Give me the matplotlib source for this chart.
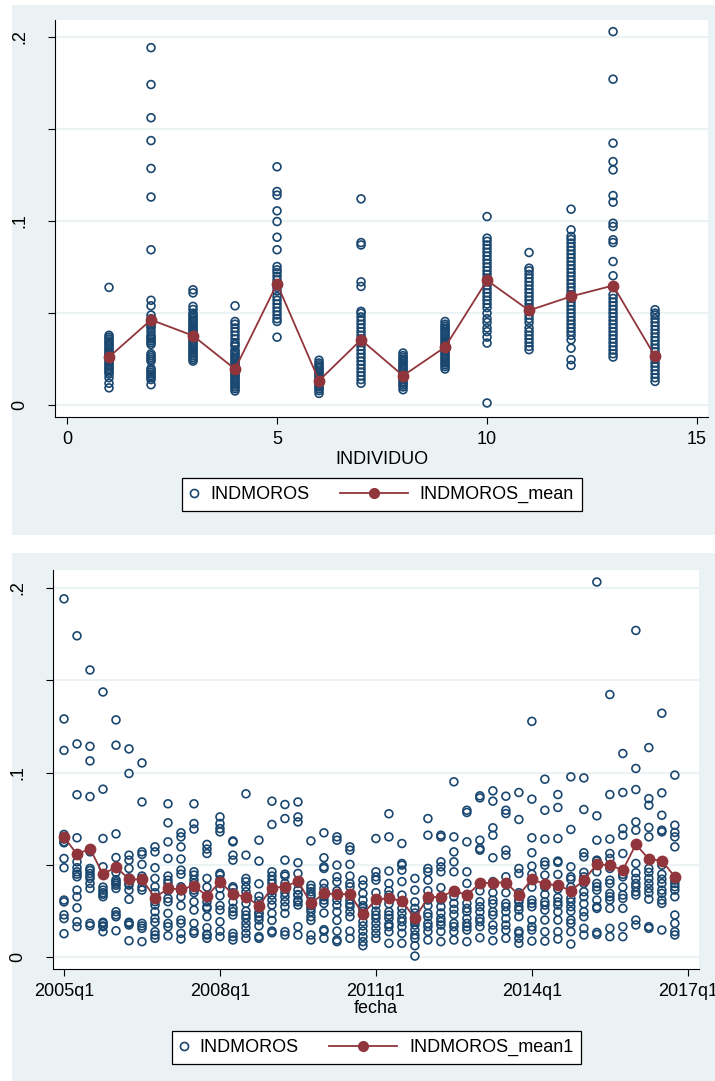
import numpy as np
import matplotlib.pyplot as plt
from matplotlib.lines import Line2D
from matplotlib.patches import Rectangle

plt.rcParams['font.family'] = ['Liberation Sans', 'DejaVu Sans']

# --- panel 1: INDMOROS por INDIVIDUO ---
ind1 = [0.064, 0.038, 0.037, 0.036, 0.035, 0.034, 0.033, 0.032, 0.031, 0.030, 0.029, 0.028, 0.027,
        0.026, 0.025, 0.024, 0.023, 0.022, 0.021, 0.020, 0.019, 0.018, 0.017, 0.015, 0.012, 0.0095]
ind2 = [0.194, 0.174, 0.156, 0.1436, 0.1285, 0.113, 0.0844, 0.057, 0.054, 0.049, 0.047, 0.046, 0.045,
        0.044, 0.043, 0.042, 0.040, 0.038, 0.037, 0.036, 0.035, 0.034, 0.033, 0.028, 0.027, 0.026,
        0.025, 0.024, 0.020, 0.019, 0.018, 0.017, 0.016, 0.015, 0.014, 0.0112]
ind3 = [0.0627, 0.061, 0.0537, 0.052, 0.050, 0.049, 0.048, 0.047, 0.046, 0.045, 0.044, 0.043, 0.042,
        0.041, 0.040, 0.039, 0.038, 0.037, 0.036, 0.035, 0.034, 0.033, 0.032, 0.031, 0.030, 0.029,
        0.028, 0.027, 0.026, 0.025, 0.024]
ind4 = [0.054, 0.0455, 0.044, 0.042, 0.040, 0.038, 0.036, 0.034, 0.033, 0.032, 0.030, 0.029, 0.028,
        0.027, 0.026, 0.025, 0.024, 0.023, 0.022, 0.021, 0.020, 0.019, 0.018, 0.017, 0.016, 0.015,
        0.014, 0.013, 0.012, 0.011, 0.010, 0.009, 0.0078]
ind5 = [0.1294, 0.116, 0.114, 0.1055, 0.0997, 0.0912, 0.0844, 0.0753, 0.0735, 0.072, 0.070, 0.068,
        0.066, 0.064, 0.062, 0.059, 0.057, 0.055, 0.053, 0.051, 0.049, 0.047, 0.0455, 0.037]
ind6 = [0.0245, 0.023, 0.022, 0.021, 0.020, 0.019, 0.018, 0.017, 0.016, 0.015, 0.014, 0.013, 0.012,
        0.011, 0.010, 0.009, 0.008, 0.0065]
ind7 = [0.112, 0.0883, 0.087, 0.067, 0.0645, 0.051, 0.050, 0.048, 0.046, 0.044, 0.042, 0.040, 0.038,
        0.036, 0.034, 0.032, 0.030, 0.028, 0.026, 0.024, 0.022, 0.020, 0.018, 0.016, 0.014, 0.012]
ind8 = [0.0284, 0.027, 0.026, 0.025, 0.024, 0.023, 0.022, 0.021, 0.020, 0.019, 0.018, 0.017, 0.016,
        0.015, 0.014, 0.013, 0.012, 0.011, 0.010, 0.0085]
ind9 = [0.0455, 0.044, 0.043, 0.042, 0.041, 0.040, 0.039, 0.038, 0.037, 0.036, 0.035, 0.034, 0.033,
        0.032, 0.031, 0.030, 0.029, 0.028, 0.027, 0.026, 0.025, 0.024, 0.023, 0.022, 0.021, 0.0197]
ind10 = [0.1024, 0.0907, 0.089, 0.087, 0.085, 0.083, 0.081, 0.079, 0.077, 0.075, 0.073, 0.071, 0.069,
         0.067, 0.065, 0.063, 0.061, 0.059, 0.057, 0.055, 0.053, 0.050, 0.047, 0.045, 0.042, 0.040,
         0.037, 0.0338, 0.0013]
ind11 = [0.0829, 0.0744, 0.073, 0.071, 0.069, 0.067, 0.065, 0.063, 0.061, 0.059, 0.057, 0.055, 0.053,
         0.051, 0.049, 0.047, 0.045, 0.042, 0.040, 0.038, 0.036, 0.034, 0.032, 0.0302]
ind12 = [0.1064, 0.0952, 0.0916, 0.090, 0.088, 0.086, 0.084, 0.082, 0.080, 0.078, 0.076, 0.074, 0.072,
         0.070, 0.068, 0.066, 0.064, 0.062, 0.060, 0.058, 0.056, 0.054, 0.052, 0.050, 0.048, 0.046,
         0.044, 0.042, 0.040, 0.038, 0.0356, 0.031, 0.0248, 0.0217]
ind13 = [0.2027, 0.1769, 0.1422, 0.1322, 0.1277, 0.1138, 0.1102, 0.0988, 0.097, 0.0898, 0.0883, 0.078,
         0.0703, 0.060, 0.058, 0.056, 0.054, 0.052, 0.050, 0.048, 0.046, 0.044, 0.042, 0.040, 0.038,
         0.036, 0.034, 0.032, 0.030, 0.028, 0.0262]
ind14 = [0.0519, 0.050, 0.049, 0.047, 0.045, 0.043, 0.041, 0.039, 0.037, 0.035, 0.033, 0.031, 0.029,
         0.027, 0.025, 0.023, 0.021, 0.019, 0.017, 0.015, 0.013]
individuos = [ind1, ind2, ind3, ind4, ind5, ind6, ind7, ind8, ind9, ind10, ind11, ind12, ind13, ind14]
indmoros_mean = [0.0262, 0.0464, 0.0378, 0.0197, 0.066, 0.0134, 0.0356, 0.0161, 0.0316, 0.0678,
                 0.0515, 0.0591, 0.065, 0.0266]

# --- panel 2: INDMOROS por trimestre (fecha) ---
f2005 = [[0.194, 0.129, 0.112, 0.0665, 0.064, 0.0625, 0.062, 0.0535, 0.0485, 0.031, 0.030, 0.023, 0.021, 0.0128],
         [0.174, 0.1155, 0.088, 0.0647, 0.0517, 0.0485, 0.0463, 0.045, 0.0436, 0.0364, 0.0328, 0.0268, 0.0193, 0.0166],
         [0.1555, 0.1142, 0.1063, 0.087, 0.0571, 0.0481, 0.047, 0.0454, 0.044, 0.0427, 0.040, 0.0373, 0.0184, 0.0171],
         [0.1436, 0.091, 0.0643, 0.049, 0.038, 0.0364, 0.035, 0.0341, 0.0328, 0.019, 0.0184, 0.017, 0.0166, 0.0139]]
f2006 = [[0.1285, 0.1148, 0.0668, 0.054, 0.046, 0.042, 0.0409, 0.040, 0.039, 0.0373, 0.0247, 0.023, 0.022, 0.0144],
         [0.1128, 0.0995, 0.0553, 0.0526, 0.0481, 0.043, 0.040, 0.0391, 0.0364, 0.0314, 0.019, 0.0184, 0.0175, 0.009],
         [0.1052, 0.0841, 0.0571, 0.0557, 0.0503, 0.044, 0.0427, 0.041, 0.038, 0.0364, 0.0184, 0.017, 0.0157, 0.0085],
         [0.0598, 0.0571, 0.0485, 0.0427, 0.0382, 0.035, 0.0301, 0.0283, 0.0247, 0.0211, 0.019, 0.0139, 0.0121, 0.0103]]
f2007 = [[0.0831, 0.0728, 0.0625, 0.0535, 0.044, 0.0418, 0.040, 0.036, 0.0319, 0.0301, 0.0238, 0.0184, 0.0166, 0.0117],
         [0.0674, 0.0652, 0.0598, 0.0532, 0.0472, 0.045, 0.0382, 0.036, 0.0328, 0.028, 0.0202, 0.0184, 0.013, 0.0099],
         [0.0831, 0.0724, 0.0694, 0.0463, 0.0445, 0.042, 0.040, 0.0364, 0.035, 0.0301, 0.0256, 0.0184, 0.0142, 0.013],
         [0.0611, 0.0586, 0.0562, 0.0427, 0.038, 0.0328, 0.030, 0.0274, 0.0265, 0.022, 0.016, 0.0125, 0.0121, 0.0103]]
f2008 = [[0.076, 0.0724, 0.0697, 0.0679, 0.0454, 0.0445, 0.042, 0.0373, 0.0333, 0.028, 0.0256, 0.0193, 0.0142, 0.0112],
         [0.063, 0.0625, 0.0553, 0.0526, 0.0382, 0.0373, 0.035, 0.030, 0.0265, 0.0247, 0.0229, 0.013, 0.0112, 0.0094],
         [0.0885, 0.0553, 0.0427, 0.0409, 0.038, 0.0355, 0.0292, 0.025, 0.0229, 0.0211, 0.0184, 0.016, 0.013, 0.0103],
         [0.0634, 0.0521, 0.0398, 0.033, 0.0305, 0.028, 0.0265, 0.0238, 0.024, 0.022, 0.0202, 0.017, 0.0112, 0.0103]]
f2009 = [[0.0845, 0.0719, 0.0463, 0.044, 0.0418, 0.040, 0.036, 0.0337, 0.031, 0.0283, 0.0238, 0.020, 0.0142, 0.0133],
         [0.0827, 0.0751, 0.0526, 0.045, 0.044, 0.040, 0.0373, 0.035, 0.0328, 0.0301, 0.0274, 0.0238, 0.0139, 0.0121],
         [0.0841, 0.076, 0.0733, 0.0512, 0.0454, 0.040, 0.0364, 0.0337, 0.034, 0.031, 0.030, 0.0283, 0.0166, 0.0121],
         [0.063, 0.039, 0.0373, 0.0355, 0.034, 0.0328, 0.030, 0.028, 0.0265, 0.0247, 0.022, 0.020, 0.0121, 0.0094]]
f2010 = [[0.0674, 0.0539, 0.049, 0.0481, 0.040, 0.0373, 0.0346, 0.0328, 0.031, 0.0292, 0.024, 0.015, 0.0142, 0.0103],
         [0.0652, 0.0634, 0.0499, 0.0436, 0.0409, 0.036, 0.0337, 0.031, 0.0283, 0.0247, 0.020, 0.0142, 0.0094, 0.0085],
         [0.0598, 0.058, 0.0503, 0.044, 0.040, 0.0382, 0.0337, 0.031, 0.029, 0.0274, 0.0247, 0.022, 0.0142, 0.0103],
         [0.0418, 0.0391, 0.0346, 0.031, 0.028, 0.0265, 0.025, 0.0229, 0.0193, 0.017, 0.0142, 0.0112, 0.0085, 0.0063]]
f2011 = [[0.0643, 0.0463, 0.0436, 0.0418, 0.035, 0.031, 0.0283, 0.025, 0.0229, 0.0211, 0.0184, 0.0157, 0.013, 0.0103],
         [0.0777, 0.0652, 0.0467, 0.040, 0.036, 0.0337, 0.029, 0.0247, 0.0229, 0.0211, 0.018, 0.0166, 0.0139, 0.0076],
         [0.0616, 0.0508, 0.0499, 0.0472, 0.041, 0.0337, 0.030, 0.0265, 0.0238, 0.0211, 0.0193, 0.0166, 0.013, 0.0076],
         [0.0427, 0.0364, 0.030, 0.0265, 0.024, 0.022, 0.020, 0.019, 0.0175, 0.0148, 0.0121, 0.0103, 0.0063, 0.0007]]
f2012 = [[0.0751, 0.0661, 0.0481, 0.0463, 0.0418, 0.036, 0.031, 0.028, 0.0238, 0.022, 0.0184, 0.0166, 0.014, 0.0094],
         [0.0661, 0.0652, 0.0517, 0.049, 0.0463, 0.0377, 0.031, 0.0274, 0.024, 0.0211, 0.0193, 0.0175, 0.014, 0.0085],
         [0.095, 0.0652, 0.0571, 0.0517, 0.0463, 0.036, 0.033, 0.0292, 0.026, 0.0232, 0.0184, 0.0166, 0.0139, 0.0094],
         [0.0796, 0.0784, 0.0625, 0.0463, 0.040, 0.034, 0.0292, 0.0265, 0.0247, 0.021, 0.0184, 0.0166, 0.0148, 0.0085]]
f2013 = [[0.0874, 0.0863, 0.0634, 0.0589, 0.058, 0.040, 0.036, 0.0301, 0.0274, 0.0247, 0.0211, 0.0193, 0.0166, 0.0106],
         [0.0901, 0.0845, 0.0701, 0.0661, 0.0539, 0.041, 0.035, 0.031, 0.029, 0.0247, 0.0229, 0.0175, 0.0148, 0.009],
         [0.0872, 0.0796, 0.0778, 0.058, 0.0553, 0.0436, 0.035, 0.0292, 0.0274, 0.0247, 0.021, 0.0175, 0.0148, 0.0103],
         [0.0892, 0.0746, 0.0481, 0.0454, 0.035, 0.031, 0.030, 0.0274, 0.0256, 0.022, 0.0142, 0.013, 0.0103, 0.0076]]
f2014 = [[0.1277, 0.0856, 0.0647, 0.0566, 0.0494, 0.045, 0.038, 0.031, 0.0292, 0.0274, 0.0202, 0.0166, 0.0148, 0.0088],
         [0.0964, 0.0796, 0.064, 0.0517, 0.0499, 0.0445, 0.038, 0.034, 0.030, 0.0283, 0.0256, 0.0202, 0.0139, 0.0088],
         [0.0881, 0.0811, 0.0643, 0.0521, 0.0514, 0.0449, 0.037, 0.0323, 0.030, 0.0283, 0.0247, 0.0202, 0.0139, 0.0099],
         [0.0977, 0.0692, 0.049, 0.0436, 0.0423, 0.038, 0.0319, 0.030, 0.0274, 0.025, 0.0202, 0.0184, 0.0139, 0.0072]]
f2015 = [[0.0971, 0.080, 0.0566, 0.0544, 0.046, 0.0436, 0.040, 0.0355, 0.0328, 0.029, 0.0247, 0.022, 0.0157, 0.0121],
         [0.2031, 0.0766, 0.0634, 0.0526, 0.0521, 0.0463, 0.040, 0.0382, 0.0364, 0.031, 0.0274, 0.0265, 0.0135, 0.0124],
         [0.1422, 0.0881, 0.064, 0.0562, 0.0535, 0.0481, 0.0418, 0.040, 0.0346, 0.0328, 0.031, 0.0265, 0.0157, 0.0112],
         [0.1103, 0.0892, 0.0697, 0.0661, 0.0562, 0.0472, 0.0449, 0.0436, 0.038, 0.0337, 0.0319, 0.0265, 0.0166, 0.0112]]
f2016 = [[0.1769, 0.1022, 0.0908, 0.0733, 0.0688, 0.0508, 0.0458, 0.0427, 0.040, 0.0382, 0.0355, 0.0337, 0.0202, 0.0175],
         [0.1135, 0.0859, 0.0823, 0.0703, 0.0652, 0.0481, 0.046, 0.0427, 0.040, 0.0373, 0.035, 0.0315, 0.0166, 0.0157],
         [0.1321, 0.089, 0.0769, 0.0688, 0.0679, 0.0499, 0.045, 0.0423, 0.040, 0.0364, 0.0346, 0.031, 0.0292, 0.0148],
         [0.0986, 0.0715, 0.0676, 0.0652, 0.0598, 0.0418, 0.040, 0.0382, 0.0364, 0.0328, 0.0229, 0.0184, 0.0139, 0.0121]]
anios = [f2005, f2006, f2007, f2008, f2009, f2010, f2011, f2012, f2013, f2014, f2015, f2016]
indmoros_mean1 = [0.0652, 0.0557, 0.0589, 0.0449, 0.049, 0.0422, 0.0422, 0.0323, 0.0373, 0.0368,
                  0.0387, 0.0332, 0.0409, 0.0341, 0.0328, 0.0279, 0.0377, 0.0382, 0.0413, 0.0292,
                  0.0346, 0.0342, 0.0342, 0.0234, 0.0314, 0.0319, 0.0306, 0.0211, 0.0324, 0.0328,
                  0.036, 0.0337, 0.040, 0.0405, 0.0405, 0.0337, 0.0423, 0.0396, 0.0391, 0.0359,
                  0.0418, 0.0503, 0.0499, 0.0472, 0.0611, 0.0532, 0.0523, 0.0436]
fecha_ticks = ['2005q1', '2008q1', '2011q1', '2014q1', '2017q1']

# colores estilo Stata s2color
BG = '#eaf2f3'
NAVY = '#1a476f'
MAROON = '#90353b'
W, H = 715, 1081


def fig_rect(x0, y0, x1, y1):
    # pixeles (origen arriba a la izquierda) -> fraccion de figura
    return [x0 / W, 1 - y1 / H, (x1 - x0) / W, (y1 - y0) / H]


class LineaLarga:
    # clave de leyenda tipo Stata: linea larga con marcador en el centro
    def __init__(self, largo):
        self.largo = largo

    def legend_artist(self, legend, orig_handle, fontsize, handlebox):
        w, h = handlebox.width, handlebox.height
        x0, y0 = handlebox.xdescent, handlebox.ydescent
        y = h / 2 - y0
        xa, xb = -x0 + w - self.largo, -x0 + w
        ln = Line2D([xa, xb], [y, y], color=MAROON, lw=1.3)
        mk = Line2D([(xa + xb) / 2], [y], marker='o', ms=7, color=MAROON, ls='none')
        handlebox.add_artist(ln)
        handlebox.add_artist(mk)
        return ln


def estilo(ax):
    ax.set_facecolor('white')
    for s in ['top', 'right']:
        ax.spines[s].set_visible(False)
    for s in ['left', 'bottom']:
        ax.spines[s].set_color('black')
        ax.spines[s].set_linewidth(0.8)
    ax.set_yticks([0, 0.05, 0.1, 0.15, 0.2])
    ax.set_yticklabels(['0', '', '.1', '', '.2'], rotation=90, va='center')
    ax.yaxis.grid(True, color=BG, lw=1.3)
    ax.set_axisbelow(True)
    ax.tick_params(axis='y', length=5, width=0.8, pad=14, labelsize=13, colors='black')
    ax.tick_params(axis='x', length=5, width=0.8, pad=5, labelsize=13, colors='black')


def leyenda(fig, etiqueta2, cx, cy):
    h1 = Line2D([], [], marker='o', ls='none', ms=5.8, mfc='none', mec=NAVY, mew=1.2)
    h2 = Line2D([], [], color=MAROON)
    leg = fig.legend([h1, h2], ['INDMOROS', etiqueta2], loc='center',
                     bbox_to_anchor=(cx / W, 1 - cy / H), bbox_transform=fig.transFigure,
                     ncol=2, fontsize=13, frameon=True, fancybox=False, framealpha=1,
                     edgecolor='black', handlelength=0.45, handletextpad=0.65,
                     columnspacing=5.0, borderpad=0.45,
                     handler_map={h2: LineaLarga(49)})
    leg.get_frame().set_linewidth(0.9)


fig = plt.figure(figsize=(W / 100, H / 100), dpi=100)
# fondos de cada grafico (graphregion)
for (x0, y0, x1, y1) in [(12, 5, 715, 535), (12, 553, 715, 1081)]:
    r = fig_rect(x0, y0, x1, y1)
    fig.patches.append(Rectangle((r[0], r[1]), r[2], r[3], transform=fig.transFigure,
                                 facecolor=BG, edgecolor='none', zorder=-10))

# panel superior
ax1 = fig.add_axes(fig_rect(55, 20, 708, 417))
for i, vals in enumerate(individuos, start=1):
    ax1.scatter(np.full(len(vals), i), vals, s=32, facecolors='none',
                edgecolors=NAVY, linewidths=1.2, zorder=2)
ax1.plot(np.arange(1, 15), indmoros_mean, color=MAROON, lw=1.3, marker='o', ms=7.5, zorder=3)
estilo(ax1)
ax1.set_xlim(-0.286, 15.26)
ax1.set_ylim(-0.0063, 0.209)
ax1.set_xticks([0, 5, 10, 15])
ax1.set_xlabel('INDIVIDUO', fontsize=13, labelpad=2)
leyenda(fig, 'INDMOROS_mean', 382, 494.5)

# panel inferior
ax2 = fig.add_axes(fig_rect(53, 570, 699, 969))
q = 0
for anio in anios:
    for vals in anio:
        ax2.scatter(np.full(len(vals), q), vals, s=32, facecolors='none',
                    edgecolors=NAVY, linewidths=1.2, zorder=2)
        q += 1
ax2.plot(np.arange(len(indmoros_mean1)), indmoros_mean1, color=MAROON, lw=1.3,
         marker='o', ms=7.5, zorder=3)
estilo(ax2)
ax2.set_xlim(-0.847, 48.86)
ax2.set_ylim(-0.0063, 0.2096)
ax2.set_xticks(np.arange(0, 49, 12))
ax2.set_xticklabels(fecha_ticks)
ax2.set_xlabel('fecha', fontsize=13, labelpad=0)
leyenda(fig, 'INDMOROS_mean1', 376.5, 1047.5)

fig.savefig('out.png', dpi=100)
